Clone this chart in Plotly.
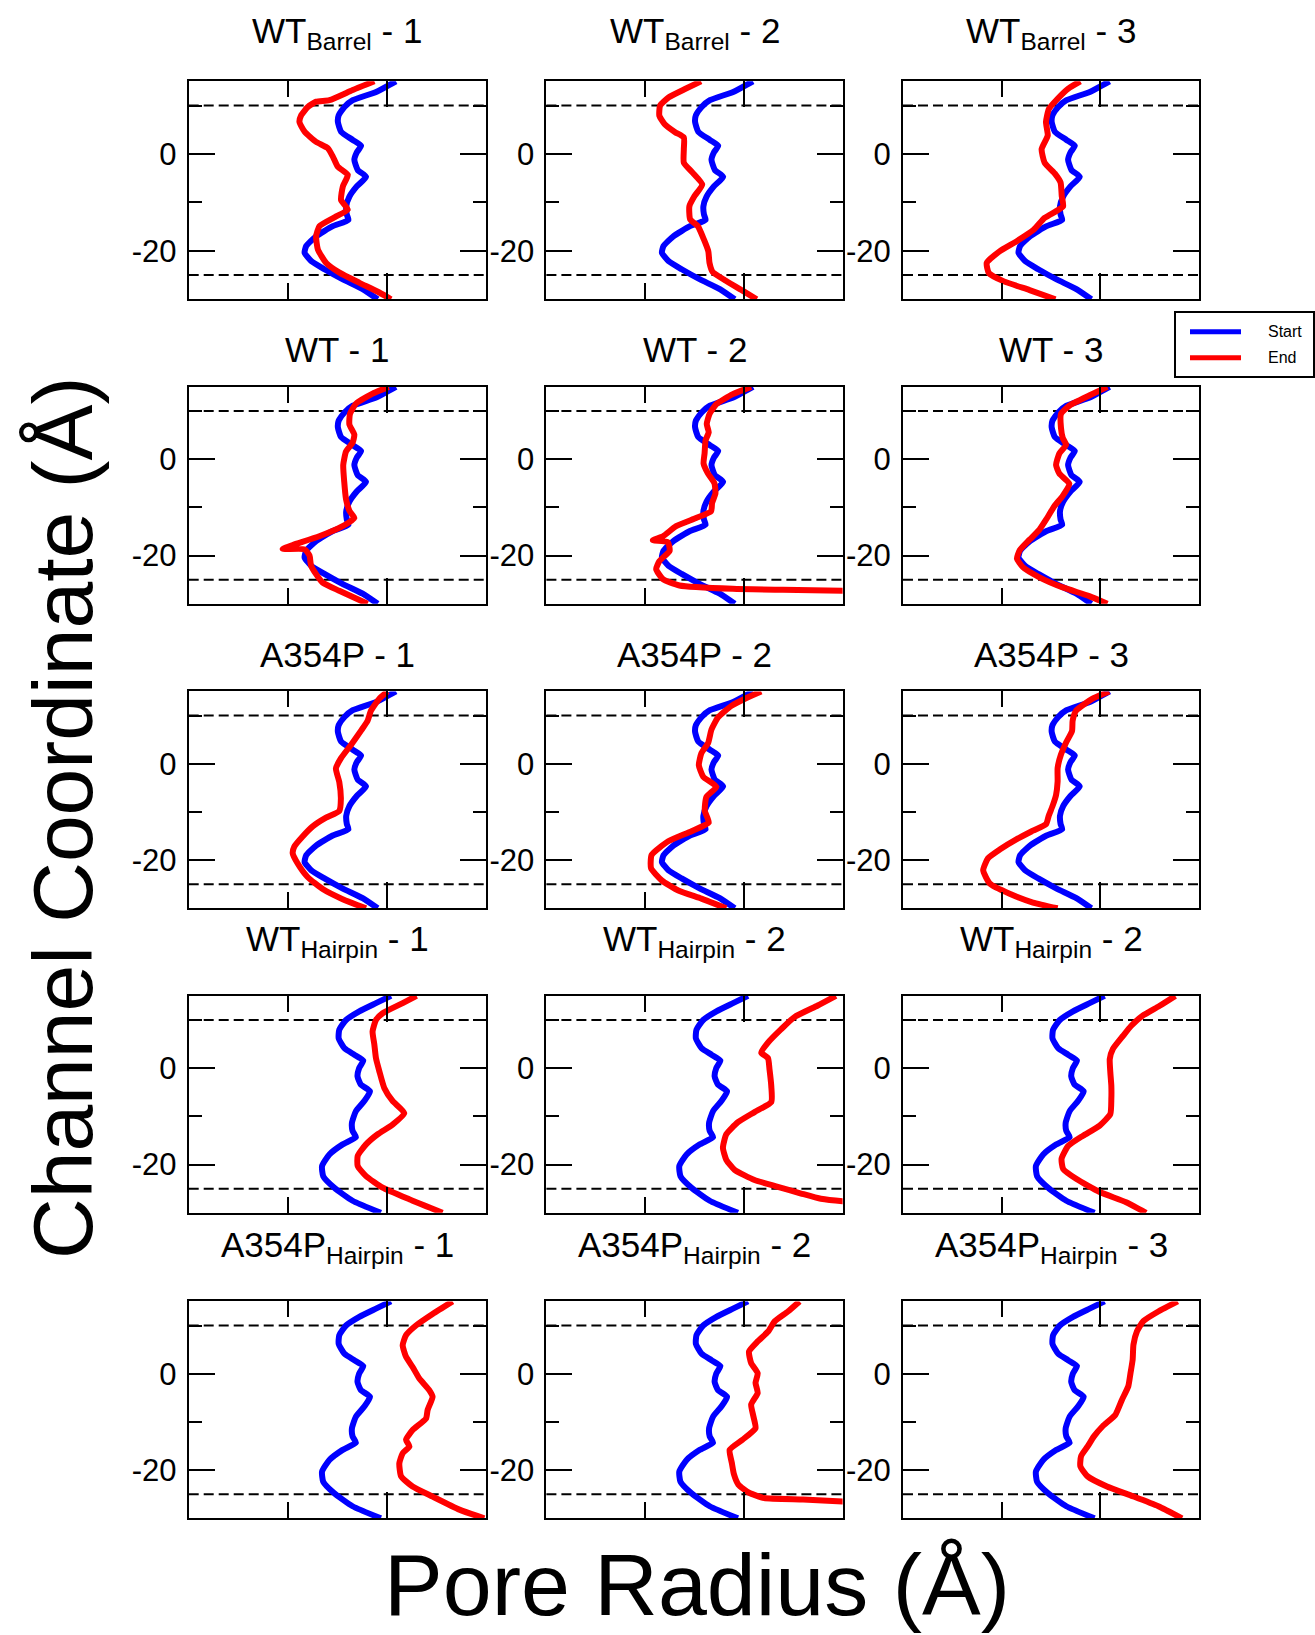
import plotly.graph_objects as go

FIG_W, FIG_H = 1315, 1635
FONT = "Liberation Sans, Arial, Helvetica, sans-serif"

# Axis ranges (pore radius in Å along x, channel coordinate in Å along y)
R_RANGE = [0, 15]
Z_RANGE = [-30, 15]
membrane_bounds = [10, -25]
z_major = [-20, 0]
z_major_text = ["-20", "0"]
z_minor = [-10, 10]
r_major = [10]
r_minor = [5]

# ---- starting structures -------------------------------------------------
start_barrel_r = [10.46, 9.46, 8.28, 7.86, 7.57, 7.53, 7.69, 8.28, 8.70, 8.48, 8.36, 8.53, 8.95,
                  8.48, 8.11, 7.95, 7.98, 8.06, 7.27, 6.43, 5.93, 5.85, 6.18, 6.85, 7.78, 8.78, 9.54]
start_barrel_z = [15, 12.8, 11.1, 9.7, 8.0, 6.6, 4.6, 2.9, 1.7, 0.3, -1.2, -3.3, -4.7,
                  -6.7, -8.8, -10.8, -12.5, -13.6, -14.9, -17.0, -19.0, -20.4, -22.1, -23.8, -25.9, -27.9, -30]

start_hairpin_r = [10.21, 9.45, 8.61, 7.94, 7.60, 7.57, 7.85, 8.36, 8.81, 8.60, 8.52, 8.69, 9.15,
                   8.86, 8.44, 8.24, 8.27, 8.44, 7.77, 7.10, 6.73, 6.79, 7.35, 8.27, 9.70]
start_hairpin_z = [15, 13.5, 11.8, 10.0, 8.0, 6.2, 4.2, 2.8, 1.6, 0.0, -1.7, -3.4, -4.8,
                   -6.8, -8.9, -11.3, -13.0, -14.3, -15.8, -17.9, -20.3, -22.4, -24.8, -27.5, -30]

# ---- end structures ------------------------------------------------------
end_wt_barrel_1_r = [9.37, 8.28, 7.10, 6.43, 6.01, 5.68, 5.59, 5.85, 6.43, 7.02, 7.27, 7.52, 8.03,
                     7.78, 7.69, 8.03, 7.44, 6.60, 6.43, 6.52, 6.94, 7.61, 8.62, 9.62, 10.21]
end_wt_barrel_1_z = [15, 13.2, 11.1, 10.8, 9.7, 8.0, 6.6, 4.6, 2.5, 1.2, -0.5, -2.6, -4.3,
                     -6.7, -9.5, -11.5, -12.9, -14.9, -17.0, -19.7, -22.5, -24.5, -26.6, -28.6, -30]

end_wt_barrel_2_r = [7.83, 7.07, 6.20, 5.76, 5.72, 5.98, 6.52, 6.96, 6.96, 6.96, 7.39, 7.89, 7.50,
                     7.24, 7.28, 7.67, 7.98, 8.20, 8.26, 8.41, 9.02, 9.89, 10.65]
end_wt_barrel_2_z = [15, 13.5, 11.7, 10.0, 7.9, 6.2, 4.5, 3.4, 1.0, -1.8, -3.8, -6.3, -8.7,
                     -10.8, -13.5, -14.9, -17.7, -20.1, -22.5, -24.3, -26.0, -28.1, -30]

end_wt_barrel_3_r = [8.98, 8.37, 7.83, 7.39, 7.24, 7.33, 7.02, 7.17, 7.72, 7.98, 8.04, 8.11, 7.76,
                     7.17, 6.63, 5.76, 4.89, 4.24, 4.35, 5.11, 6.41, 7.72]
end_wt_barrel_3_z = [15, 13.5, 11.4, 9.3, 6.6, 3.8, 1.0, -1.8, -4.2, -5.9, -8.7, -10.8, -11.8,
                     -13.2, -15.6, -18.0, -20.1, -22.5, -24.6, -26.3, -28.1, -30]

end_wt_1_r = [10.09, 9.28, 8.44, 8.14, 8.11, 8.36, 8.27, 7.94, 7.80, 7.85, 7.94, 8.11, 8.36,
              7.77, 6.59, 5.25, 4.74, 5.85, 6.10, 6.17, 6.42, 6.76, 7.60, 9.03]
end_wt_1_z = [15, 13.6, 11.5, 9.4, 7.2, 5.1, 3.4, 1.6, -1.2, -4.7, -8.3, -10.7, -12.2,
              -13.9, -16.0, -17.8, -18.6, -18.7, -20.0, -22.0, -23.8, -25.6, -27.3, -30]

end_wt_2_r = [10.37, 9.44, 8.60, 8.26, 8.12, 8.22, 8.06, 8.01, 7.96, 8.17, 8.51, 8.56, 8.39,
              8.34, 7.58, 6.57, 5.90, 5.39, 6.15, 6.24, 5.73, 5.56, 5.90, 6.74, 9.44, 11.97, 15.0, 16.0]
end_wt_2_z = [15, 13.5, 11.4, 9.4, 7.3, 5.6, 3.9, 1.2, -0.9, -2.9, -5.0, -7.1, -9.1,
              -10.8, -12.2, -13.9, -16.0, -16.8, -17.2, -19.0, -21.1, -22.8, -24.9, -26.2, -26.9, -27.1, -27.3, -27.4]

end_wt_3_r = [10.35, 9.43, 8.42, 8.00, 8.00, 8.09, 8.26, 7.92, 7.75, 7.92, 8.42, 8.09, 7.67,
              7.25, 6.91, 6.41, 5.91, 5.77, 6.07, 6.91, 8.09, 9.43, 10.35]
end_wt_3_z = [15, 13.2, 11.1, 9.4, 6.5, 4.4, 3.0, 1.2, -1.2, -3.0, -5.1, -7.6, -9.7,
              -12.5, -14.6, -16.7, -18.9, -20.6, -22.4, -24.5, -26.6, -28.4, -30]

end_a354p_1_r = [10.04, 9.62, 9.20, 9.03, 8.69, 8.19, 7.68, 7.43, 7.60, 7.68, 7.60, 6.93, 6.26,
                 5.75, 5.33, 5.25, 5.50, 6.00, 6.76, 7.77, 8.95]
end_a354p_1_z = [15, 13.5, 11.0, 8.9, 6.8, 3.9, 1.1, -1.0, -3.8, -7.3, -9.8, -11.2, -13.0,
                 -15.1, -17.2, -18.6, -20.7, -23.5, -26.0, -28.1, -30]

end_a354p_2_r = [10.88, 10.21, 9.37, 8.69, 8.36, 8.19, 7.85, 7.72, 7.94, 8.61, 8.10, 8.02, 8.22,
                 7.35, 6.17, 5.33, 5.30, 5.84, 6.68, 7.85, 9.11]
end_a354p_2_z = [15, 13.8, 12.0, 9.6, 7.1, 4.3, 2.2, -0.3, -2.7, -4.8, -6.9, -9.8, -12.2,
                 -14.0, -16.1, -18.9, -21.7, -24.2, -26.3, -28.0, -30]

end_a354p_3_r = [10.44, 9.60, 8.76, 8.59, 8.56, 8.26, 8.00, 7.83, 7.83, 7.75, 7.58, 7.38, 7.25,
                 6.58, 5.74, 4.90, 4.31, 4.06, 4.40, 5.40, 6.58, 7.83]
end_a354p_3_z = [15, 13.5, 11.0, 8.9, 6.8, 4.4, 1.9, -0.9, -3.7, -6.5, -8.7, -10.8, -12.5,
                 -13.9, -15.7, -17.8, -19.6, -22.1, -24.9, -27.0, -28.8, -30]

end_wt_hairpin_1_r = [11.50, 10.80, 9.79, 9.45, 9.28, 9.37, 9.45, 9.62, 9.87, 10.29, 10.88, 10.29, 9.54,
                      8.95, 8.53, 8.53, 8.95, 9.79, 11.13, 12.81]
end_wt_hairpin_1_z = [15, 13.5, 11.4, 10.0, 7.6, 4.9, 2.1, -0.6, -4.1, -6.8, -9.3, -11.7, -13.7,
                      -15.8, -18.2, -20.3, -22.4, -24.8, -27.2, -30]

end_wt_hairpin_2_r = [14.66, 13.74, 12.56, 11.89, 11.22, 10.88, 11.22, 11.30, 11.39, 11.39, 10.54, 9.70, 9.11,
                      8.94, 9.11, 9.53, 10.54, 11.72, 12.90, 13.90, 15.0, 16.0]
end_wt_hairpin_2_z = [15, 13.0, 10.6, 8.1, 5.3, 3.2, 2.1, -0.3, -3.8, -7.0, -9.1, -11.2, -13.7,
                      -16.5, -19.0, -21.1, -23.2, -24.6, -26.0, -27.1, -27.6, -27.8]

end_wt_hairpin_3_r = [13.79, 12.98, 12.14, 11.56, 11.14, 10.63, 10.47, 10.50, 10.55, 10.55, 10.50, 9.96, 9.12,
                      8.37, 8.03, 8.11, 8.79, 9.96, 11.30, 12.31]
end_wt_hairpin_3_z = [15, 12.9, 10.9, 8.8, 6.7, 4.0, 1.9, -0.9, -3.6, -6.4, -9.5, -11.9, -14.0,
                      -16.1, -18.8, -20.9, -23.0, -25.7, -27.8, -30]

end_a354p_hairpin_1_r = [13.32, 12.31, 11.47, 10.97, 10.80, 10.97, 11.30, 11.64, 12.14, 12.31, 12.06, 11.98, 11.30,
                         10.97, 11.14, 10.80, 10.63, 10.72, 11.30, 12.31, 13.66, 14.92]
end_a354p_hairpin_1_z = [15, 12.4, 10.0, 8.0, 5.9, 3.5, 1.4, -1.0, -3.4, -4.8, -7.5, -9.3, -11.7,
                         -13.7, -15.1, -16.5, -18.6, -21.3, -23.4, -25.5, -28.2, -30]

end_a354p_hairpin_2_r = [12.82, 12.23, 11.57, 11.24, 10.70, 10.26, 10.37, 10.70, 10.59, 10.70, 10.37, 10.48, 10.59,
                         9.93, 9.28, 9.39, 9.50, 9.72, 10.26, 11.03, 13.0, 15.0, 16.0]
end_a354p_hairpin_2_z = [15, 12.9, 10.9, 8.8, 6.7, 4.6, 2.2, 0.1, -1.9, -4.0, -6.4, -8.8, -11.3,
                         -13.7, -15.8, -18.5, -20.9, -23.0, -24.7, -25.8, -26.1, -26.5, -26.6]

end_a354p_hairpin_3_r = [13.91, 12.93, 12.17, 11.85, 11.67, 11.63, 11.52, 11.41, 11.09, 10.76, 10.11, 9.67, 9.35,
                         9.02, 8.98, 9.35, 10.33, 11.63, 12.93, 14.13]
end_a354p_hairpin_3_z = [15, 12.9, 10.9, 8.8, 6.0, 2.9, 0.1, -2.6, -5.4, -8.5, -10.9, -13.0, -15.1,
                         -17.1, -19.2, -21.3, -23.4, -25.4, -27.5, -30]

panel_titles = [
    "WT<sub>Barrel</sub> - 1", "WT<sub>Barrel</sub> - 2", "WT<sub>Barrel</sub> - 3",
    "WT - 1", "WT - 2", "WT - 3",
    "A354P - 1", "A354P - 2", "A354P - 3",
    "WT<sub>Hairpin</sub> - 1", "WT<sub>Hairpin</sub> - 2", "WT<sub>Hairpin</sub> - 2",
    "A354P<sub>Hairpin</sub> - 1", "A354P<sub>Hairpin</sub> - 2", "A354P<sub>Hairpin</sub> - 3",
]

start_profiles = [(start_barrel_r, start_barrel_z)] * 9 + [(start_hairpin_r, start_hairpin_z)] * 6
end_profiles = [
    (end_wt_barrel_1_r, end_wt_barrel_1_z), (end_wt_barrel_2_r, end_wt_barrel_2_z), (end_wt_barrel_3_r, end_wt_barrel_3_z),
    (end_wt_1_r, end_wt_1_z), (end_wt_2_r, end_wt_2_z), (end_wt_3_r, end_wt_3_z),
    (end_a354p_1_r, end_a354p_1_z), (end_a354p_2_r, end_a354p_2_z), (end_a354p_3_r, end_a354p_3_z),
    (end_wt_hairpin_1_r, end_wt_hairpin_1_z), (end_wt_hairpin_2_r, end_wt_hairpin_2_z), (end_wt_hairpin_3_r, end_wt_hairpin_3_z),
    (end_a354p_hairpin_1_r, end_a354p_hairpin_1_z), (end_a354p_hairpin_2_r, end_a354p_hairpin_2_z), (end_a354p_hairpin_3_r, end_a354p_hairpin_3_z),
]

# ---- page geometry (pixels) ----------------------------------------------
col_px = [(188.7, 485.9), (546.4, 842.6), (903.0, 1199.2)]
row_px = [(81.3, 299.3), (386.9, 603.8), (691.4, 908.3), (995.9, 1212.8), (1301.4, 1518.3)]
title_px = [33, 349, 654, 941, 1247]


def px_x(v):
    return v / FIG_W


def px_y(v):
    return 1 - v / FIG_H


fig = go.Figure()
layout = {}
shapes = []
annotations = []

line_style = dict(width=6, shape="spline", smoothing=0.5)

for i in range(15):
    row, col = divmod(i, 3)
    n = "" if i == 0 else str(i + 1)
    xa, ya = f"x{n}", f"y{n}"

    sr, sz = start_profiles[i]
    er, ez = end_profiles[i]
    fig.add_trace(go.Scatter(x=sr, y=sz, mode="lines", name="Start", showlegend=False,
                             line=dict(color="#0000ff", **line_style), xaxis=xa, yaxis=ya))
    fig.add_trace(go.Scatter(x=er, y=ez, mode="lines", name="End", showlegend=False,
                             line=dict(color="#ff0000", **line_style), xaxis=xa, yaxis=ya))

    x0, x1 = col_px[col]
    y0, y1 = row_px[row]
    layout[f"xaxis{n}"] = dict(
        domain=[px_x(x0), px_x(x1)], range=R_RANGE, anchor=ya,
        showline=True, linecolor="black", linewidth=2, mirror="ticks",
        ticks="inside", ticklen=26, tickwidth=2, tickcolor="black",
        tickmode="array", tickvals=r_major, showticklabels=False,
        minor=dict(ticks="inside", ticklen=16, tickwidth=2, tickcolor="black",
                   tickmode="array", tickvals=r_minor),
        showgrid=False, zeroline=False, fixedrange=True,
    )
    layout[f"yaxis{n}"] = dict(
        domain=[px_y(y1), px_y(y0)], range=Z_RANGE, anchor=xa,
        showline=True, linecolor="black", linewidth=2, mirror="ticks",
        ticks="inside", ticklen=26, tickwidth=2, tickcolor="black",
        tickmode="array", tickvals=z_major, ticktext=z_major_text,
        tickfont=dict(family=FONT, size=31, color="black"), ticklabelstandoff=4,
        minor=dict(ticks="inside", ticklen=13, tickwidth=2, tickcolor="black",
                   tickmode="array", tickvals=z_minor),
        showgrid=False, zeroline=False, fixedrange=True,
    )

    for b in membrane_bounds:
        shapes.append(dict(type="line", xref=f"{xa} domain", yref=ya, x0=0, x1=1, y0=b, y1=b,
                           line=dict(color="black", width=2, dash="10px,5px"), layer="below"))

    annotations.append(dict(text=panel_titles[i], xref="paper", yref="paper",
                            x=px_x((x0 + x1) / 2), y=px_y(title_px[row]),
                            xanchor="center", yanchor="middle", showarrow=False,
                            font=dict(family=FONT, size=35, color="black")))

# axis titles
annotations.append(dict(text="Channel Coordinate (Å)", xref="paper", yref="paper",
                        x=px_x(63), y=px_y(818), textangle=-90, showarrow=False,
                        xanchor="center", yanchor="middle",
                        font=dict(family=FONT, size=84, color="black")))
annotations.append(dict(text="Pore Radius (Å)", xref="paper", yref="paper",
                        x=px_x(697), y=px_y(1584), showarrow=False,
                        xanchor="center", yanchor="middle",
                        font=dict(family=FONT, size=88, color="black")))

# key
shapes.append(dict(type="rect", xref="paper", yref="paper",
                   x0=px_x(1175), x1=px_x(1314), y0=px_y(377), y1=px_y(312),
                   line=dict(color="black", width=2), fillcolor="white", layer="above"))
for label, color, cy in [("Start", "#0000ff", 331.7), ("End", "#ff0000", 357.7)]:
    shapes.append(dict(type="line", xref="paper", yref="paper",
                       x0=px_x(1190), x1=px_x(1241), y0=px_y(cy), y1=px_y(cy),
                       line=dict(color=color, width=5), layer="above"))
    annotations.append(dict(text=label, xref="paper", yref="paper",
                            x=px_x(1266), y=px_y(cy), xanchor="left", yanchor="middle",
                            showarrow=False, font=dict(family=FONT, size=16, color="black")))

fig.update_layout(
    width=FIG_W, height=FIG_H,
    margin=dict(l=0, r=0, t=0, b=0),
    paper_bgcolor="white", plot_bgcolor="white",
    showlegend=False,
    shapes=shapes, annotations=annotations,
    font=dict(family=FONT, color="black"),
    **layout,
)

fig.write_html("out.html", config={"displayModeBar": False})
